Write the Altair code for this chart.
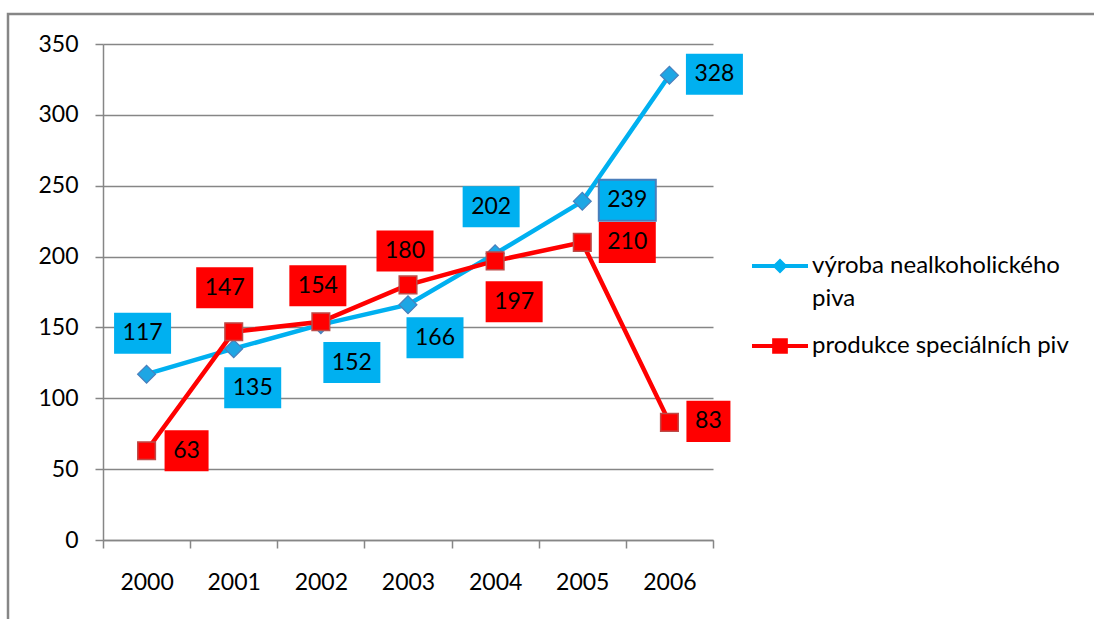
import altair as alt
import pandas as pd

# ---- data ----
years = ["2000", "2001", "2002", "2003", "2004", "2005", "2006"]
nealko = [117, 135, 152, 166, 202, 239, 328]
special = [63, 147, 154, 180, 197, 210, 83]
series_names = ["výroba nealkoholického piva", "produkce speciálních piv"]

# ---- label placement (pixel offsets of data-label boxes from their points) ----
nealko_lab_dx = [-4, 19, 31, 27, -4, 45, 45]
nealko_lab_dy = [-41, 39, 38, 33, -47, -1, -1]
special_lab_dx = [40, -9, -3, -3, 19, 45, 39]
special_lab_dy = [0, -44, -36, -34, 41, 0, -1]
outlined_label_year = "2005"  # the one blue label box drawn with a border

BLUE = "#00B0F0"
RED = "#FF0000"
GRID = "#868686"
FONT = "Lato"
FS = 23
W, H = 610, 496
YMAX = 350

rows = []
for i, y in enumerate(years):
    rows.append(dict(year=y, value=nealko[i], series=series_names[0],
                     dx=nealko_lab_dx[i], dy=nealko_lab_dy[i]))
for i, y in enumerate(years):
    rows.append(dict(year=y, value=special[i], series=series_names[1],
                     dx=special_lab_dx[i], dy=special_lab_dy[i]))
df = pd.DataFrame(rows)

BOX3 = "M-1,-0.72L1,-0.72L1,0.72L-1,0.72Z"
BOX2 = "M-0.772,-0.72L0.772,-0.72L0.772,0.72L-0.772,0.72Z"
LEG_BLUE = "M-1,-0.07L1,-0.07L1,0.07L-1,0.07Z M-0.27,0L0,-0.27L0.27,0L0,0.27Z"
LEG_RED = "M-1,-0.07L1,-0.07L1,0.07L-1,0.07Z M-0.28,-0.28L0.28,-0.28L0.28,0.28L-0.28,0.28Z"

x_enc = alt.X("year:O", title=None,
              scale=alt.Scale(type="band", paddingInner=0, paddingOuter=0),
              axis=alt.Axis(tickBand="extent", labelAngle=0, grid=False,
                            domainColor=GRID, domainWidth=1.5, tickColor=GRID,
                            tickWidth=1.5, tickSize=8, labelPadding=23,
                            labelFont=FONT, labelFontSize=FS, labelColor="black"))
y_scale = alt.Scale(domain=[0, YMAX], nice=False)
y_axis = alt.Axis(values=list(range(0, 351, 50)), grid=True,
                  gridColor=GRID, gridWidth=1.5, domainColor=GRID,
                  domainWidth=1.5, tickColor=GRID, tickWidth=1.5,
                  tickSize=8, labelPadding=17, labelFont=FONT,
                  labelFontSize=FS, labelColor="black")
y_enc = alt.Y("value:Q", title=None, scale=y_scale, axis=y_axis)
ylab_enc = alt.Y("ly:Q", title=None, scale=y_scale, axis=y_axis)

base = alt.Chart(df)

frame = base.mark_rect(fill=None, stroke=GRID, strokeWidth=2.5, clip=False).encode(
    x=alt.value(-95), x2=alt.value(1200), y=alt.value(-30), y2=alt.value(800)
).transform_filter("datum.year == '2000' && datum.series == '" + series_names[0] + "'")

blue = base.transform_filter(alt.datum.series == series_names[0])
red = base.transform_filter(alt.datum.series == series_names[1])

blue_line = blue.mark_line(color=BLUE, strokeWidth=4.5).encode(x=x_enc, y=y_enc)
blue_pts = blue.mark_point(shape="diamond", filled=True, size=320, fill="#1EA6E4",
                           stroke="#4A7EBB", strokeWidth=1.2, opacity=1).encode(x=x_enc, y=y_enc)
red_line = red.mark_line(color=RED, strokeWidth=4.5).encode(x=x_enc, y=y_enc)
red_pts = red.mark_point(shape="square", filled=True, size=310, fill=RED,
                         stroke="#BE4B48", strokeWidth=1.5, opacity=1).encode(x=x_enc, y=y_enc)

label_calc = dict(
    ox=f"datum.dx + {W} / {2 * len(years)}",
    ly=f"datum.value - datum.dy * {YMAX} / {H}",
)

outline_test = (f"datum.year == '{outlined_label_year}' && "
                f"datum.series == '{series_names[0]}'")

boxes = base.mark_point(filled=True, size=3249, opacity=1, strokeWidth=2).encode(
    x=x_enc, y=ylab_enc,
    xOffset=alt.XOffset("ox:Q", scale=None),
    shape=alt.Shape("box:N", scale=None),
    fill=alt.Fill("series:N", scale=alt.Scale(domain=series_names, range=[BLUE, RED]), legend=None),
    stroke=alt.condition(outline_test, alt.value("#4A7EBB"), alt.value("transparent")),
).transform_calculate(
    box=f"length(toString(datum.value)) >= 3 ? '{BOX3}' : '{BOX2}'", **label_calc
)

texts = base.mark_text(font=FONT, fontSize=FS, color="black", align="center",
                       baseline="middle").encode(
    x=x_enc, y=ylab_enc,
    xOffset=alt.XOffset("ox:Q", scale=None),
    text=alt.Text("value:Q"),
).transform_calculate(**label_calc)

leg = alt.Legend(title=None, orient="none", legendX=649, legendY=194,
                 symbolSize=3136, symbolStrokeWidth=0, labelFont=FONT,
                 labelFontSize=24, labelColor="black", labelOffset=4,
                 rowPadding=7, symbolOpacity=1, labelLimit=400,
                 labelExpr="datum.label == 'výroba nealkoholického piva' ? ['výroba nealkoholického', 'piva'] : datum.label")

legend_layer = base.mark_point(filled=True, opacity=1).encode(
    x=x_enc, y=y_enc,
    color=alt.Color("series:N", scale=alt.Scale(domain=series_names, range=[BLUE, RED]), legend=leg),
    shape=alt.Shape("series:N", scale=alt.Scale(domain=series_names, range=[LEG_BLUE, LEG_RED]), legend=leg),
).transform_filter("false")

chart = alt.layer(frame, blue_line, blue_pts, red_line, red_pts, boxes, texts, legend_layer).properties(
    width=W, height=H,
    padding={"left": 103, "top": 44, "right": 381, "bottom": 79},
    autosize=alt.AutoSizeParams(type="none"),
).configure(view={"stroke": "transparent"}, style={"guide-label": {"lineHeight": 33}})

chart.save("out.html", embed_options={"renderer": "svg", "actions": False})
